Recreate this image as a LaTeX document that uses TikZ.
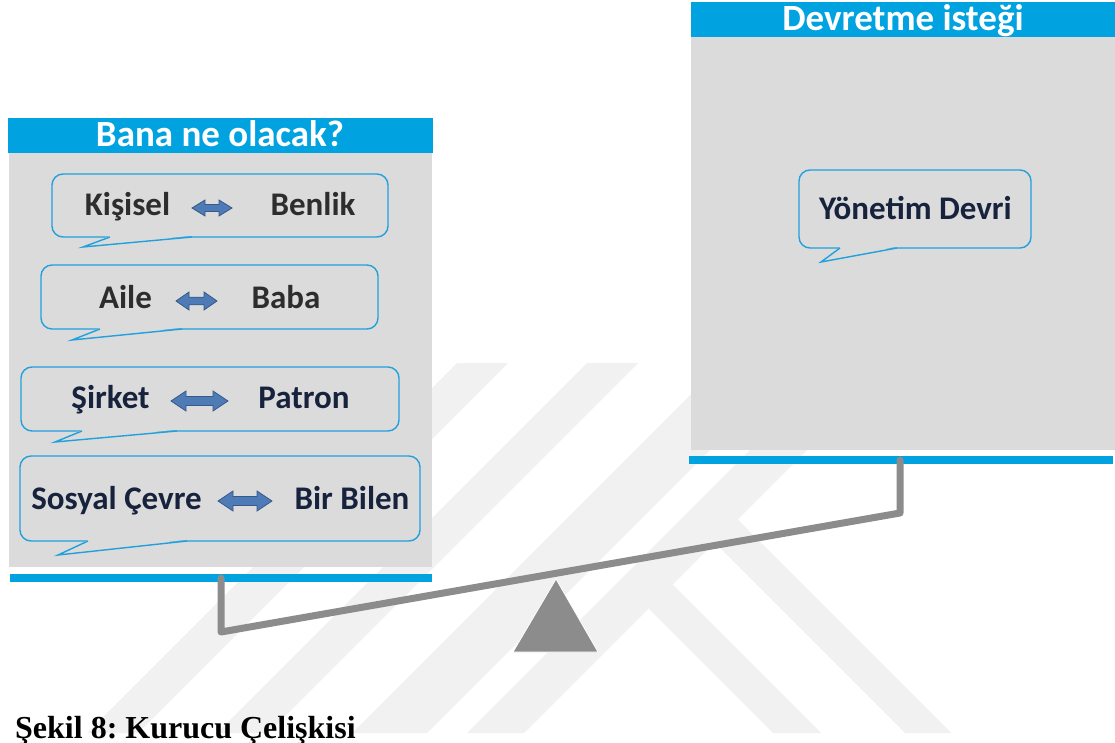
\documentclass[tikz,border=0pt]{standalone}
\usepackage{fontspec}
\setmainfont{Carlito}
\newfontfamily\captionserif{Liberation Serif}
\frenchspacing
\definecolor{hdrblue}{HTML}{00A2DF}
\definecolor{panelgrey}{HTML}{DBDBDB}
\definecolor{bubline}{HTML}{21A0DB}
\definecolor{levergrey}{HTML}{8C8C8C}
\definecolor{wmgrey}{HTML}{F1F1F1}
\definecolor{inkgrey}{HTML}{2D2D2D}
\definecolor{inknavy}{HTML}{17223D}
\definecolor{arrowfill}{HTML}{4E7AB5}
\definecolor{arrowline}{HTML}{36598A}

\tikzset{
  hdrtext/.style={font=\fontsize{37}{37}\selectfont\bfseries, text=white, inner sep=0pt, anchor=base},
  bubtext/.style={font=\fontsize{33}{33}\selectfont\bfseries, inner sep=0pt, anchor=base},
  captext/.style={font=\captionserif\fontsize{32}{32}\selectfont\bfseries, text=black, inner sep=0pt, anchor=base west},
  bubble/.style={draw=bubline, line width=1.4pt, fill=panelgrey, rounded corners=11pt},
  bubtail/.style={draw=bubline, line width=1.4pt, line join=miter},
  lever/.style={draw=levergrey, line width=7pt, line cap=round, line join=round},
  fulcrum/.style={fill=levergrey, draw=white, line width=0.8pt},
  lrarrowstyle/.style={fill=arrowfill, draw=arrowline, line width=0.8pt, line join=miter},
}

% speech bubble: left, top, right, bottom, tail start x, tip x, tip y, tail end x
\newcommand\talkbubble[8]{%
  \draw[bubble] (#1,#2) rectangle (#3,#4);
  \fill[panelgrey] (#5+0.6,#4-1.3) -- (#6,#7) -- (#8-0.6,#4-1.3) -- cycle;
  \draw[bubtail] (#5,#4) -- (#6,#7) -- (#8,#4);
}
% left-right block arrow: centre x, centre y, half length, half head height, half shaft height, head length
\newcommand\lrblockarrow[6]{%
  \filldraw[lrarrowstyle] (#1-#3,#2) -- (#1-#3+#6,#2-#4) -- (#1-#3+#6,#2-#5)
    -- (#1+#3-#6,#2-#5) -- (#1+#3-#6,#2-#4) -- (#1+#3,#2)
    -- (#1+#3-#6,#2+#4) -- (#1+#3-#6,#2+#5) -- (#1-#3+#6,#2+#5)
    -- (#1-#3+#6,#2+#4) -- cycle;
}

\begin{document}
\begin{tikzpicture}[x=1pt,y=-1pt]
\useasboundingbox (0,0) rectangle (1115,743);
\fill[white] (0,0) rectangle (1115,743);

% faint background emblem
\fill[wmgrey] (457,363) -- (508,363) -- (138,733) -- (87,733) -- cycle;
\fill[wmgrey] (587,363) -- (638,363) -- (268,733) -- (217,733) -- cycle;
\fill[wmgrey] (722,363) -- (797,363) -- (427,733) -- (352,733) -- cycle;
\fill[wmgrey] (837,363) -- (894,363) -- (524,733) -- (467,733) -- cycle;
\fill[wmgrey] (648.5,608.5) -- (672.5,584.5) -- (821,733) -- (773,733) -- cycle;
\fill[wmgrey] (714.5,542.5) -- (737.5,519.5) -- (951,733) -- (905,733) -- cycle;

% left pan
\fill[panelgrey] (9,153) rectangle (432,567);
\fill[hdrblue] (8,118) rectangle (433,153);
\fill[hdrblue] (10,574) rectangle (432,582);
\node[hdrtext] (lefthead) at (220,147) {Bana ne olacak?};

% right pan
\fill[panelgrey] (691,37) rectangle (1115,450);
\fill[hdrblue] (691,2) rectangle (1115,37);
\fill[hdrblue] (689,456) rectangle (1113,464);
\node[hdrtext] (righthead) at (903,31) {Devretme isteği};

% beam and fulcrum
\coordinate (pivotL) at (221,578);
\coordinate (bendL) at (221,632);
\coordinate (bendR) at (900,513);
\coordinate (pivotR) at (900,460);
\draw[lever] (pivotL) -- (bendL) -- (bendR) -- (pivotR);
\filldraw[fulcrum] (556,579) -- (598,652) -- (513,652) -- cycle;

% bubbles on the left
\talkbubble{52}{174}{388}{237}{110}{83}{247}{192}
\node[bubtext, text=inkgrey] (kisisel) at (127.5,216) {Kişisel};
\node[bubtext, text=inkgrey] (benlik) at (313,216) {Benlik};
\lrblockarrow{212}{208}{20}{8}{3.5}{13}

\talkbubble{41}{265}{378}{329}{100}{72}{340}{182}
\node[bubtext, text=inkgrey] (aile) at (125.5,308) {Aile};
\node[bubtext, text=inkgrey] (baba) at (286,308) {Baba};
\lrblockarrow{196.5}{301}{20.5}{9}{3.8}{13}

\talkbubble{21}{367}{399}{431}{82}{55}{442}{177}
\node[bubtext, text=inknavy] (sirket) at (110.5,408) {Şirket};
\node[bubtext, text=inknavy] (patron) at (304,408) {Patron};
\lrblockarrow{199.5}{401}{28.5}{10}{4.5}{15}

\talkbubble{20}{456}{420}{541}{88}{58}{555}{187}
\node[bubtext, text=inknavy] (sosyal) at (116.5,509) {Sosyal Çevre};
\node[bubtext, text=inknavy] (birbilen) at (352,509) {Bir Bilen};
\lrblockarrow{245}{501}{27}{10}{4.5}{15}

% bubble on the right
\talkbubble{799}{170}{1031}{248}{840}{821}{262}{897}
\node[bubtext, text=inknavy] (yonetim) at (915.5,220) {Yönetim Devri};

% caption
\node[captext] (caption) at (15,738) {Şekil 8: Kurucu Çelişkisi};
\end{tikzpicture}
\end{document}
